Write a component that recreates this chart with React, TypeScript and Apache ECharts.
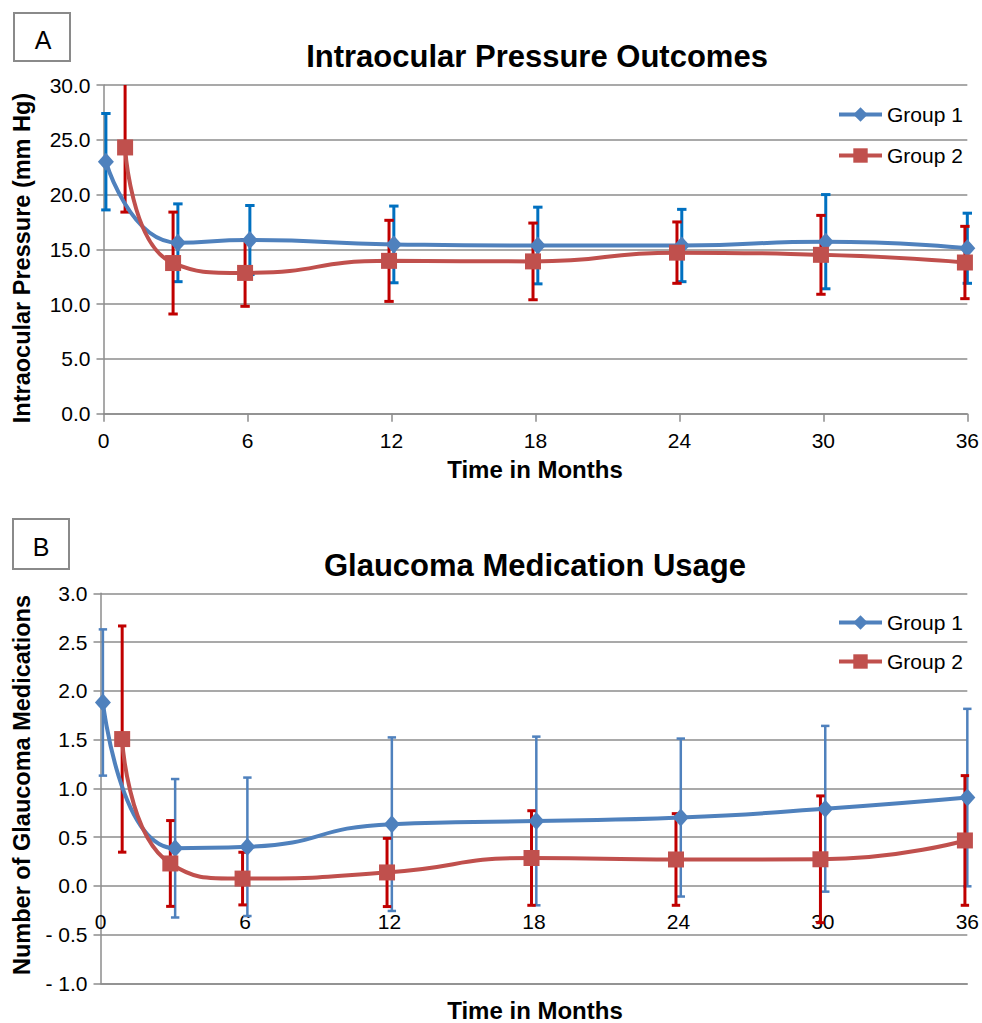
import React, { useEffect, useRef } from 'react';
import * as echarts from 'echarts';

const FONT = '"Liberation Sans", Arial, Helvetica, sans-serif';

// Time points (months), Group 1 slightly right, Group 2 slightly left
const group1Months = [0.1, 3.1, 6.1, 12.1, 18.1, 24.1, 30.1, 36];
const group2Months = [0.9, 2.9, 5.9, 11.9, 17.9, 23.9, 29.9, 35.9];

// Panel A: Intraocular pressure (mm Hg), mean and SD
const group1Iop = [23.0, 15.6, 15.85, 15.45, 15.35, 15.35, 15.7, 15.1];
const group1IopSd = [4.4, 3.55, 3.15, 3.5, 3.5, 3.3, 4.3, 3.2];
const group2Iop = [24.3, 13.75, 12.85, 13.95, 13.9, 14.7, 14.5, 13.8];
const group2IopSd = [5.9, 4.65, 3.05, 3.7, 3.5, 2.8, 3.6, 3.3];

// Panel B: number of glaucoma medications, mean and SD
const group1Med = [1.88, 0.385, 0.4, 0.632, 0.665, 0.7, 0.79, 0.905];
const group1MedSd = [0.75, 0.71, 0.71, 0.89, 0.865, 0.81, 0.85, 0.91];
const group2Med = [1.505, 0.229, 0.074, 0.137, 0.285, 0.27, 0.272, 0.465];
const group2MedSd = [1.16, 0.44, 0.27, 0.35, 0.485, 0.47, 0.65, 0.665];

const seriesNames = ['Group 1', 'Group 2'];

const BLUE = '#4F81BD';
const RED = '#C0504D';
const GRID = '#8c8c8c';

function errorBars(months: number[], means: number[], sds: number[], color: string, width: number, capHalf: number, idx: number, yMin: number, yMax: number) {
  return {
    type: 'custom',
    xAxisIndex: idx,
    yAxisIndex: idx,
    silent: true,
    z: 2,
    data: months.map((m, i) => [m, means[i] - sds[i], means[i] + sds[i]]),
    encode: { x: 0, y: [1, 2] },
    renderItem: (params: any, api: any) => {
      const x = api.value(0);
      const lo = api.value(1);
      const hi = api.value(2);
      const top = api.coord([x, Math.min(hi, yMax)]);
      const bot = api.coord([x, Math.max(lo, yMin)]);
      const style = { stroke: color, lineWidth: width };
      const children: any[] = [
        { type: 'line', shape: { x1: top[0], y1: top[1], x2: bot[0], y2: bot[1] }, style },
      ];
      if (hi <= yMax) children.push({ type: 'line', shape: { x1: top[0] - capHalf, y1: top[1], x2: top[0] + capHalf, y2: top[1] }, style });
      if (lo >= yMin) children.push({ type: 'line', shape: { x1: bot[0] - capHalf, y1: bot[1], x2: bot[0] + capHalf, y2: bot[1] }, style });
      return { type: 'group', children };
    },
  };
}

function lineSeries(name: string, months: number[], values: number[], color: string, symbol: string, size: any, idx: number) {
  return {
    type: 'line',
    name,
    xAxisIndex: idx,
    yAxisIndex: idx,
    data: months.map((m, i) => [m, values[i]]),
    smooth: 0.55,
    symbol,
    symbolSize: size,
    showSymbol: true,
    lineStyle: { color, width: 4 },
    itemStyle: { color },
    z: 4,
  };
}

function xAxis(idx: number, showTick: boolean, margin: number) {
  return {
    gridIndex: idx,
    type: 'value',
    min: 0,
    max: 36,
    interval: 6,
    axisLine: { show: true, onZero: false, lineStyle: { color: GRID, width: 1.5 } },
    axisTick: { show: showTick, length: 8, lineStyle: { color: GRID, width: 1.5 } },
    axisLabel: { fontSize: 21, color: '#000', margin, fontFamily: FONT },
    splitLine: { show: false },
  };
}

function yAxis(idx: number, min: number, max: number, interval: number) {
  return {
    gridIndex: idx,
    type: 'value',
    min,
    max,
    interval,
    axisLine: { show: true, lineStyle: { color: GRID, width: 1.5 } },
    axisTick: { show: true, length: 7, lineStyle: { color: GRID, width: 1.5 } },
    axisLabel: {
      fontSize: 21,
      color: '#000',
      margin: 13,
      fontFamily: FONT,
      formatter: (v: number) => (v < 0 ? '- ' + Math.abs(v).toFixed(1) : v.toFixed(1)),
    },
    splitLine: { show: true, lineStyle: { color: GRID, width: 1.5 } },
  };
}

function txt(text: string, x: number, y: number, size: number, bold: boolean, rotation = 0) {
  return {
    type: 'text',
    x,
    y,
    rotation,
    z: 10,
    style: {
      text,
      fontSize: size,
      fontWeight: bold ? 'bold' : 'normal',
      fontFamily: FONT,
      fill: '#000',
      align: 'center',
      verticalAlign: 'middle',
      textAlign: 'center',
      textVerticalAlign: 'middle',
    },
  };
}

export default function App() {
  const ref = useRef<HTMLDivElement>(null);
  useEffect(() => {
    if (!ref.current) return;
    const chart = echarts.init(ref.current, null, { renderer: 'svg' });
    const legendBase = {
      data: seriesNames,
      orient: 'vertical',
      left: 832,
      itemWidth: 43,
      itemHeight: 18,
      lineStyle: { width: 4 },
      textStyle: { fontSize: 21, color: '#000', fontFamily: FONT },
    };
    chart.setOption({
      animation: false,
      backgroundColor: '#fff',
      grid: [
        { left: 103.5, right: 13, top: 85, height: 328.7 },
        { left: 100.5, right: 13, top: 593.3, height: 390 },
      ],
      xAxis: [xAxis(0, true, 16), xAxis(1, false, -72)],
      yAxis: [yAxis(0, 0, 30, 5), yAxis(1, -1, 3, 0.5)],
      legend: [
        { ...legendBase, top: 99, itemGap: 20 },
        { ...legendBase, top: 607, itemGap: 18 },
      ],
      graphic: [
        { type: 'rect', shape: { x: 14, y: 13, width: 56, height: 48 }, style: { fill: '#fff', stroke: '#8a8a8a', lineWidth: 2 } },
        txt('A', 43, 40, 25, false),
        { type: 'rect', shape: { x: 13, y: 519, width: 56, height: 50 }, style: { fill: '#fff', stroke: '#8a8a8a', lineWidth: 2 } },
        txt('B', 41, 547, 25, false),
        txt('Intraocular Pressure Outcomes', 537, 56, 31, true),
        txt('Glaucoma Medication Usage', 535, 565, 31, true),
        txt('Intraocular Pressure (mm Hg)', 22, 258, 23.5, true, Math.PI / 2),
        txt('Number of Glaucoma Medications', 22, 785, 23.5, true, Math.PI / 2),
        txt('Time in Months', 535, 469, 24, true),
        txt('Time in Months', 535, 1010, 24, true),
      ],
      series: [
        errorBars(group1Months, group1Iop, group1IopSd, '#0070C0', 3, 4.7, 0, 0, 30),
        errorBars(group2Months, group2Iop, group2IopSd, '#C00000', 3, 4.7, 0, 0, 30),
        lineSeries(seriesNames[0], group1Months, group1Iop, BLUE, 'diamond', [16, 18], 0),
        lineSeries(seriesNames[1], group2Months, group2Iop, RED, 'rect', 16, 0),
        errorBars(group1Months, group1Med, group1MedSd, '#4F81BD', 2.5, 4.2, 1, -1, 3),
        errorBars(group2Months, group2Med, group2MedSd, '#C00000', 3, 4.2, 1, -1, 3),
        lineSeries(seriesNames[0], group1Months, group1Med, BLUE, 'diamond', [16, 18], 1),
        lineSeries(seriesNames[1], group2Months, group2Med, RED, 'rect', 16, 1),
      ],
    });
    return () => chart.dispose();
  }, []);
  return <div ref={ref} style={{ position: 'absolute', left: 0, top: 0, width: 982, height: 1023 }} />;
}
